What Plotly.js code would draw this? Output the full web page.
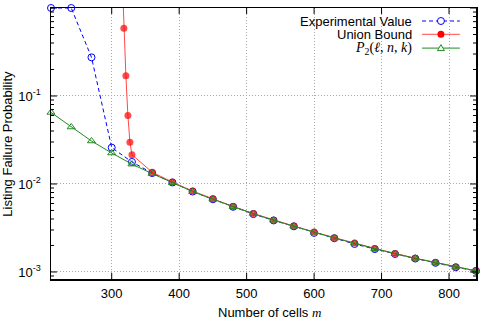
<!DOCTYPE html>
<html><head><meta charset="utf-8">
<script src="https://cdn.plot.ly/plotly-3.0.1.min.js"></script>
<style>body{margin:0;background:#fff}#chart{width:480px;height:319px}</style>
</head><body><div id="chart"></div>
<script>
// Number of cells m
const cellsM = [210,240,270,300,330,360,390,420,450,480,510,540,570,600,630,660,690,720,750,780,810,840];
// Experimental Value
const experimentalValue = [1,1,0.275,0.0259,0.0178,0.0133,0.0104,0.0082,0.0067,0.0055,0.00455,0.00385,0.0033,0.00278,0.00242,0.00208,0.00182,0.0016,0.00142,0.00127,0.00113,0.00103];
// P2(l,n,k)
const p2Value = [0.065,0.0444,0.0308,0.0225,0.0168,0.0131,0.0103,0.0082,0.0067,0.0055,0.0046,0.00387,0.0033,0.00283,0.00243,0.00212,0.00184,0.00161,0.00143,0.00128,0.00114,0.00103];
// Union Bound (first point lies above the plotted range)
const unionM = [315,318,321,324,327,330,360,390,420,450,480,510,540,570,600,630,660,690,720,750,780,810,840];
const unionBound = [3,0.59,0.17,0.060,0.0298,0.0215,0.0136,0.0105,0.0083,0.00678,0.00553,0.00461,0.00388,0.00332,0.00284,0.00244,0.00213,0.00185,0.00162,0.00143,0.00128,0.00114,0.00103];
// Axis ticks
const xTicks = [300,400,500,600,700,800];
const yTicks = [0.001,0.01,0.1,1];
const yTickText = ['10<sup>-3</sup>','10<sup>-2</sup>','10<sup>-1</sup>','10<sup>0</sup>'];
const seriesNames = ['Experimental Value','Union Bound','<i>P</i><sub>2</sub>(<i>ℓ</i>, <i>n</i>, <i>k</i>)'];
const xTitle = 'Number of cells <i style="font-family:\'Liberation Serif\'">m</i>';
const yTitle = 'Listing Failure Probability';

// minor log ticks 2..9 in every decade
const yMinor = [];
yTicks.forEach(d => { for (let k = 2; k <= 9; k++) yMinor.push(d * k / 10); });

const BLUE = '#0000ff', RED = '#ff0000', REDLINE = '#ff4848', GREEN = '#1e8c1e';
const serif = "'Liberation Serif', serif";
const sans = "'Liberation Sans', Arial, sans-serif";
const FS = 13;
const Y_RANGE = [-3.08, 0];

const traces = [
  {x: cellsM, y: experimentalValue, mode: 'lines+markers', cliponaxis: false, showlegend: false,
   line: {color: BLUE, width: 1, dash: '4px,3px'},
   marker: {symbol: 'circle-open', size: 7, color: BLUE, line: {width: 1, color: BLUE}}},
  {x: unionM, y: unionBound, mode: 'lines+markers', cliponaxis: false, showlegend: false,
   line: {color: REDLINE, width: 1},
   marker: {symbol: 'circle', size: unionBound.map(v => v > 1 ? 0 : 7), color: RED, line: {width: 0}}},
  {x: cellsM, y: p2Value, mode: 'lines+markers', cliponaxis: false, showlegend: false,
   line: {color: GREEN, width: 1},
   marker: {symbol: 'triangle-up-open', size: 7, color: GREEN, line: {width: 1, color: GREEN}}}
];

// custom gnuplot-style legend: text right-aligned, sample on the right
const legX = 0.854, sampX0 = 0.873, sampX1 = 0.962, sampXc = 0.9175;
const legY = [0.952, 0.903, 0.852];
const legColors = [BLUE, REDLINE, GREEN];
const annotations = seriesNames.map((t, i) => ({
  xref: 'paper', yref: 'paper', x: legX, y: legY[i], xanchor: 'right', yanchor: 'middle',
  showarrow: false, text: t,
  font: {family: i === 2 ? serif : sans, size: i === 2 ? 14 : FS, color: '#000'}
}));
// axis titles
annotations.push({xref: 'paper', yref: 'paper', x: 0.515, y: -0.125, xanchor: 'center', yanchor: 'middle',
  showarrow: false, text: xTitle, font: {family: sans, size: FS, color: '#000'}});
annotations.push({xref: 'paper', yref: 'paper', x: -0.103, y: 0.5, xanchor: 'center', yanchor: 'middle',
  textangle: -90, showarrow: false, text: yTitle, font: {family: sans, size: FS, color: '#000'}});

const shapes = [];
legY.forEach((y, i) => {
  shapes.push({type: 'line', xref: 'paper', yref: 'paper', x0: sampX0, x1: sampX1, y0: y, y1: y,
    line: {color: legColors[i], width: 1, dash: i === 0 ? '4px,3px' : 'solid'}});
});
shapes.push({type: 'circle', xref: 'paper', yref: 'paper', xsizemode: 'pixel', ysizemode: 'pixel',
  xanchor: sampXc, yanchor: legY[0], x0: -3.5, x1: 3.5, y0: -3.5, y1: 3.5,
  line: {color: BLUE, width: 1}, fillcolor: 'white'});
shapes.push({type: 'circle', xref: 'paper', yref: 'paper', xsizemode: 'pixel', ysizemode: 'pixel',
  xanchor: sampXc, yanchor: legY[1], x0: -3.5, x1: 3.5, y0: -3.5, y1: 3.5,
  line: {color: RED, width: 0}, fillcolor: RED});
shapes.push({type: 'path', xref: 'paper', yref: 'paper', xsizemode: 'pixel', ysizemode: 'pixel',
  xanchor: sampXc, yanchor: legY[2], path: 'M-3.5,-2.5 L3.5,-2.5 L0,3.5 Z',
  line: {color: GREEN, width: 1}, fillcolor: 'white'});

// gnuplot-style inward tick marks on all four sides
const tickLine = {color: '#000', width: 1};
const addYTick = (v, len) => {
  shapes.push({type: 'line', layer: 'above', xref: 'paper', yref: 'y', xsizemode: 'pixel', xanchor: 0,
    x0: 0, x1: len, y0: v, y1: v, line: tickLine});
  shapes.push({type: 'line', layer: 'above', xref: 'paper', yref: 'y', xsizemode: 'pixel', xanchor: 1,
    x0: -len, x1: 0, y0: v, y1: v, line: tickLine});
};
yTicks.forEach(v => addYTick(v, 6));
yMinor.forEach(v => addYTick(v, 3));
xTicks.forEach(v => {
  shapes.push({type: 'line', layer: 'above', xref: 'x', yref: 'paper', ysizemode: 'pixel', yanchor: 0,
    x0: v, x1: v, y0: 0, y1: 6, line: tickLine});
  shapes.push({type: 'line', layer: 'above', xref: 'x', yref: 'paper', ysizemode: 'pixel', yanchor: 1,
    x0: v, x1: v, y0: -6, y1: 0, line: tickLine});
});

const layout = {
  width: 480, height: 319,
  margin: {l: 51, r: 4, t: 8, b: 40},
  paper_bgcolor: '#fff', plot_bgcolor: '#fff',
  font: {family: sans, size: FS, color: '#000'},
  showlegend: false,
  xaxis: {
    range: [210, 840], tickmode: 'array', tickvals: xTicks,
    ticks: 'outside', ticklen: 2, tickcolor: 'rgba(0,0,0,0)',
    showline: true, linecolor: '#000', linewidth: 1.5, mirror: true,
    showgrid: true, gridcolor: '#a8a8a8', gridwidth: 1, griddash: '1px,2px', zeroline: false,
    tickfont: {family: sans, size: FS, color: '#000'}
  },
  yaxis: {
    type: 'log', range: Y_RANGE, tickmode: 'array', tickvals: yTicks, ticktext: yTickText,
    ticks: 'outside', ticklen: 6, tickcolor: 'rgba(0,0,0,0)',
    showline: true, linecolor: '#000', linewidth: 1.5, mirror: true,
    showgrid: true, gridcolor: '#a8a8a8', gridwidth: 1, griddash: '1px,2px', zeroline: false,
    tickfont: {family: sans, size: FS, color: '#000'}
  },
  annotations: annotations,
  shapes: shapes
};

Plotly.newPlot('chart', traces, layout, {staticPlot: true, displayModeBar: false});
</script>
</body></html>
